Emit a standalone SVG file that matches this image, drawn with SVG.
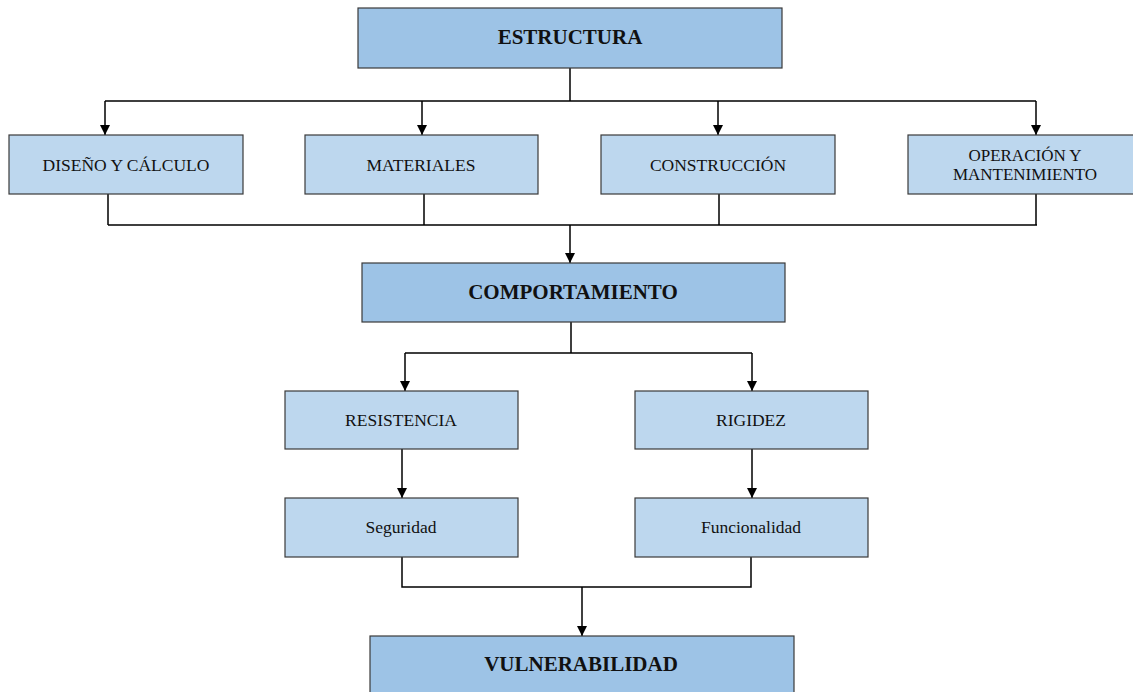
<svg xmlns="http://www.w3.org/2000/svg" width="1133" height="692" viewBox="0 0 1133 692">
  <defs>
    <marker id="arrow" viewBox="0 0 10 10" refX="10" refY="5" markerWidth="10" markerHeight="10" markerUnits="userSpaceOnUse" orient="auto">
      <path d="M0,0 L10,5 L0,10 z" fill="#000"/>
    </marker>
    <style>
      .main rect { fill: #9dc3e6; stroke: #3a3a3a; stroke-width: 1.2; }
      .sub rect { fill: #bdd7ee; stroke: #3a3a3a; stroke-width: 1.2; }
      text { font-family: "Liberation Serif", "Times New Roman", serif; fill: #111; text-anchor: middle; }
      .main text { font-size: 21px; font-weight: bold; }
      .sub text { font-size: 17.5px; }
      .sub text.small { font-size: 17px; }
      .wire { fill: none; stroke: #000; stroke-width: 1.5; }
      .arr { marker-end: url(#arrow); }
    </style>
  </defs>
  <rect width="1133" height="692" fill="#fff"/>

  <!-- connectors -->
  <g id="connectors">
    <!-- ESTRUCTURA to its four factors -->
    <path class="wire" d="M570,68 V101 M105,101 H1036"/>
    <path class="wire arr" d="M105,101 V135"/>
    <path class="wire arr" d="M422,101 V135"/>
    <path class="wire arr" d="M718,101 V135"/>
    <path class="wire arr" d="M1036,101 V135"/>
    <!-- factors merge into COMPORTAMIENTO -->
    <path class="wire" d="M108,194 V225 M424,194 V225 M719,194 V225 M1036,194 V225 M108,225 H1037"/>
    <path class="wire arr" d="M570,225 V263"/>
    <!-- COMPORTAMIENTO split -->
    <path class="wire" d="M571,322 V353 M405,353 H752"/>
    <path class="wire arr" d="M405,353 V391"/>
    <path class="wire arr" d="M752,353 V391"/>
    <path class="wire arr" d="M402,449 V498"/>
    <path class="wire arr" d="M752,449 V498"/>
    <!-- merge into VULNERABILIDAD -->
    <path class="wire" d="M402,557 V587 H751 V557"/>
    <path class="wire arr" d="M582,587 V636"/>
  </g>

  <g id="estructura" class="main">
    <rect x="358" y="8" width="424" height="60"/>
    <text x="570" y="44">ESTRUCTURA</text>
  </g>

  <g id="diseno" class="sub">
    <rect x="9" y="135" width="234" height="59"/>
    <text x="126" y="171">DISEÑO Y CÁLCULO</text>
  </g>
  <g id="materiales" class="sub">
    <rect x="305" y="135" width="233" height="59"/>
    <text x="421" y="171">MATERIALES</text>
  </g>
  <g id="construccion" class="sub">
    <rect x="601" y="135" width="234" height="59"/>
    <text x="718" y="171">CONSTRUCCIÓN</text>
  </g>
  <g id="operacion" class="sub">
    <rect x="908" y="135" width="240" height="59"/>
    <text class="small" x="1025" y="161">OPERACIÓN Y</text>
    <text class="small" x="1025" y="180">MANTENIMIENTO</text>
  </g>

  <g id="comportamiento" class="main">
    <rect x="362" y="263" width="423" height="59"/>
    <text x="573" y="299">COMPORTAMIENTO</text>
  </g>

  <g id="resistencia" class="sub">
    <rect x="285" y="391" width="233" height="58"/>
    <text x="401" y="426">RESISTENCIA</text>
  </g>
  <g id="rigidez" class="sub">
    <rect x="635" y="391" width="233" height="58"/>
    <text x="751" y="426">RIGIDEZ</text>
  </g>

  <g id="seguridad" class="sub">
    <rect x="285" y="498" width="233" height="59"/>
    <text x="401" y="533">Seguridad</text>
  </g>
  <g id="funcionalidad" class="sub">
    <rect x="635" y="498" width="233" height="59"/>
    <text x="751" y="533">Funcionalidad</text>
  </g>

  <g id="vulnerabilidad" class="main">
    <rect x="370" y="636" width="424" height="70"/>
    <text x="581" y="671">VULNERABILIDAD</text>
  </g>
</svg>
